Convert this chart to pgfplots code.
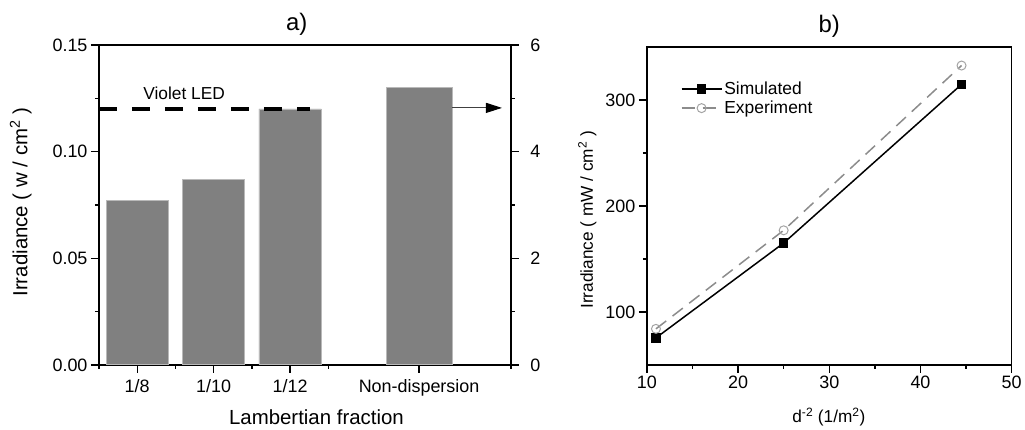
\documentclass[border=0pt]{standalone}
\usepackage{fontspec}
\setmainfont{Liberation Sans}
\usepackage{pgfplots}
\pgfplotsset{compat=1.18}
\usetikzlibrary{arrows.meta}
\definecolor{bargray}{HTML}{808080}
\definecolor{expgray}{HTML}{8C8C8C}

\pgfplotsset{
  panel/.style={scale only axis,
    axis line style={line width=1.4bp}, every tick/.style={black, line width=1.4bp},
    major tick length=8bp, minor tick length=4bp, tick align=outside,
    /pgf/number format/assume math mode=true},
}

\begin{document}
\begin{tikzpicture}
  \path (0bp,0bp) rectangle (1025bp,430bp);

  % a) bars
  \begin{axis}[panel, name=pa, at={(99bp,65bp)}, anchor=south west, width=412bp, height=320bp,
      xmin=0.5, xmax=5.886, ymin=0, ymax=0.15,
      xtick pos=bottom, ytick pos=left,
      xtick={1,2,3,4.686}, xticklabels={1/8,1/10,1/12,Non-dispersion},
      minor xtick={0.5,1.5,2.5,3.5,5.886},
      ytick={0,0.05,0.1,0.15}, minor ytick={0.025,0.075,0.125},
      yticklabel style={/pgf/number format/.cd, fixed, fixed zerofill, precision=2},
      ticklabel style={font=\fontsize{18}{21}\selectfont},
      xticklabel style={yshift=-3bp},
      title={a)}, title style={at={(rel axis cs:0.48,1)}, anchor=south, yshift=0bp, font=\fontsize{24}{28}\selectfont},
      xlabel={Lambertian fraction}, xlabel style={at={(rel axis cs:0.528,-0.163)}, anchor=center, font=\fontsize{20.5}{24}\selectfont},
      ylabel={Irradiance ( w / cm\textsuperscript{2} )}, ylabel style={at={(rel axis cs:-0.19,0.509)}, anchor=center, font=\fontsize{20.5}{24}\selectfont},
    ]
    \addplot[ybar, bar width=0.815, fill=bargray, draw=bargray!55!white, line width=0.8bp]
      coordinates {(1,0.077) (2,0.087) (3,0.120)};
    \addplot[ybar, bar width=0.86, fill=bargray, draw=bargray!55!white, line width=0.8bp]
      coordinates {(4.686,0.130)};
    \addplot[black, line width=3.5bp, dash pattern=on 18bp off 15bp]
      coordinates {(0.5,0.12) (3.26,0.12)};
    \addplot[black!75, line width=1bp, -{Triangle[length=16bp,width=10bp,black]}]
      coordinates {(5.117,0.1205) (5.77,0.1205)};
    \node[font=\fontsize{17.4}{20}\selectfont] at (axis cs:1.614,0.1275) {Violet LED};
  \end{axis}
  \begin{axis}[panel, at={(99bp,65bp)}, anchor=south west, width=412bp, height=320bp,
      xmin=0.5, xmax=5.886, ymin=0, ymax=6,
      axis y line*=right, hide x axis,
      ytick={0,2,4,6}, minor ytick={1,3,5},
      ticklabel style={font=\fontsize{18}{21}\selectfont, xshift=8bp}]
    \addplot[draw=none] coordinates {(1,0)};
  \end{axis}

  % b) lines
  \begin{axis}[panel, name=pb, at={(647bp,65bp)}, anchor=south west, width=365bp, height=318bp,
      xmin=10, xmax=50, ymin=50, ymax=350,
      xtick pos=bottom, ytick pos=left,
      xtick={10,20,30,40,50}, minor xtick={15,25,35,45},
      ytick={100,200,300}, minor ytick={150,250},
      ticklabel style={font=\fontsize{18}{21}\selectfont},
      title={b)}, title style={at={(rel axis cs:0.5,1)}, anchor=south, yshift=0bp, font=\fontsize{24}{28}\selectfont},
      xlabel={d\textsuperscript{-2} (1/m\textsuperscript{2})}, xlabel style={at={(rel axis cs:0.499,-0.163)}, anchor=center, font=\fontsize{17.3}{20}\selectfont},
      ylabel={Irradiance ( mW / cm\textsuperscript{2} )}, ylabel style={at={(rel axis cs:-0.163,0.456)}, anchor=center, font=\fontsize{17.3}{20}\selectfont},
      legend style={draw=none, fill=none, at={(rel axis cs:0.09,0.9)}, anchor=north west,
        font=\fontsize{17.5}{20}\selectfont, row sep=1bp, inner sep=1bp},
      legend cell align=left,
      legend image code/.code={\draw[mark repeat=2, mark phase=2] plot coordinates {(0bp,0bp) (20bp,0bp) (40bp,0bp)};},
    ]
    \addplot[black, line width=1.5bp, mark=square*, mark size=4bp, mark options={solid}]
      coordinates {(11,75.5) (25,165) (44.5,314.7)};
    \addlegendentry{Simulated}
    \addplot[expgray, line width=1.5bp, dash pattern=on 13bp off 8bp, mark=o, mark size=4.5bp,
        mark options={solid, fill=white, draw=expgray!80, line width=1bp}]
      coordinates {(11,84) (25,177) (44.5,332.5)};
    \addlegendentry{Experiment}
  \end{axis}
\end{tikzpicture}
\end{document}
